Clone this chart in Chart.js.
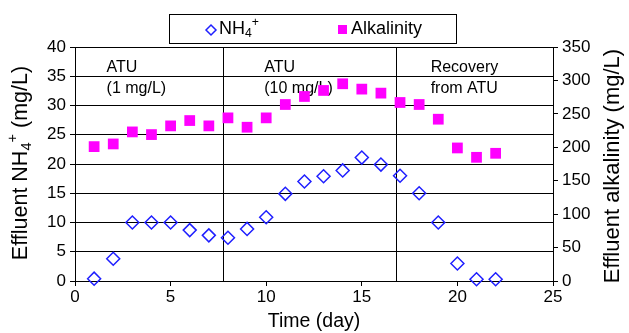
<!DOCTYPE html>
<html>
<head>
<meta charset="utf-8">
<script src="https://cdn.jsdelivr.net/npm/chart.js@4.4.1/dist/chart.umd.min.js"></script>
<style>
  html, body { margin: 0; padding: 0; background: #fff; }
  #wrap { width: 629px; height: 333px; position: relative; }
</style>
</head>
<body>
<div id="wrap"><canvas id="chart"></canvas></div>
<script>
// dados
const days = [1, 2, 3, 4, 5, 6, 7, 8, 9, 10, 11, 12, 13, 14, 15, 16, 17, 18, 19, 20, 21, 22];
const nh4 = [0.4, 3.8, 10, 10, 10, 8.7, 7.8, 7.4, 8.9, 10.9, 14.9, 17, 17.9, 18.9, 21.1, 19.9, 18, 15, 10, 3, 0.3, 0.3];
const alkalinity = [201, 205, 223, 219, 232, 240, 232, 244, 230, 244, 264, 276, 285, 295, 287, 281, 267, 264, 242, 199, 185, 191];
const phaseBreaks = [7.75, 16.8];
const phaseLabels = [
    { day: 1.65, lines: ['ATU', '(1 mg/L)'] },
    { day: 9.9, lines: ['ATU', '(10 mg/L)'] },
    { day: 18.6, lines: ['Recovery', 'from ATU'] }
];
const leftTicks = { min: 0, max: 40, step: 5 };
const rightTicks = { min: 0, max: 350, step: 50 };

const FONT = '"Liberation Sans", Arial, sans-serif';
const BLUE = '#1f1fff';
const MAGENTA = '#ff00ff';

// texto com sub/sobrescrito: s = 0 normal, -1 sub, 1 sup
function richWidth(ctx, parts, size) {
    let w = 0;
    parts.forEach(p => {
        ctx.font = (p.s ? size * 0.68 : size) + 'px ' + FONT;
        w += ctx.measureText(p.t).width;
    });
    return w;
}
function drawRich(ctx, parts, x, y, size) {
    let cx = x;
    parts.forEach(p => {
        const fs = p.s ? size * 0.68 : size;
        ctx.font = fs + 'px ' + FONT;
        const dy = p.s === -1 ? size * 0.28 : (p.s === 1 ? -size * 0.38 : 0);
        ctx.fillText(p.t, cx, y + dy);
        cx += ctx.measureText(p.t).width;
    });
}

const extras = {
    id: 'extras',
    beforeDatasetsDraw(chart) {
        const { ctx, chartArea: a, scales: { x } } = chart;
        ctx.save();
        ctx.strokeStyle = '#000';
        ctx.lineWidth = 1;
        phaseBreaks.forEach(d => {
            const px = Math.round(x.getPixelForValue(d)) + 0.5;
            ctx.beginPath();
            ctx.moveTo(px, a.top);
            ctx.lineTo(px, a.bottom);
            ctx.stroke();
        });
        ctx.fillStyle = '#000';
        ctx.font = '16px ' + FONT;
        ctx.textBaseline = 'middle';
        ctx.textAlign = 'left';
        phaseLabels.forEach(l => {
            const px = x.getPixelForValue(l.day);
            l.lines.forEach((t, i) => ctx.fillText(t, px, a.top + 21 + i * 21));
        });
        ctx.restore();
    },
    afterDraw(chart) {
        const { ctx, chartArea: a } = chart;
        ctx.save();
        ctx.fillStyle = '#000';
        ctx.textBaseline = 'middle';
        // título eixo esquerdo
        const leftTitle = [{ t: 'Effluent NH', s: 0 }, { t: '4', s: -1 }, { t: '+', s: 1 }, { t: ' (mg/L)', s: 0 }];
        ctx.save();
        ctx.translate(21, 163);
        ctx.rotate(-Math.PI / 2);
        const w = richWidth(ctx, leftTitle, 21.5);
        ctx.textAlign = 'left';
        drawRich(ctx, leftTitle, -w / 2, 0, 21.5);
        ctx.restore();
        // título eixo direito
        ctx.save();
        ctx.translate(613, 166);
        ctx.rotate(-Math.PI / 2);
        ctx.textAlign = 'center';
        ctx.font = '22px ' + FONT;
        ctx.fillText('Effluent alkalinity (mg/L)', 0, 0);
        ctx.restore();

        // legenda
        ctx.fillStyle = '#fff';
        ctx.fillRect(169, 14, 287, 29);
        ctx.strokeStyle = '#000';
        ctx.lineWidth = 1;
        ctx.strokeRect(169.5, 14.5, 287, 29);
        ctx.strokeStyle = BLUE;
        ctx.lineWidth = 1.5;
        ctx.beginPath();
        ctx.moveTo(206, 30); ctx.lineTo(211, 25); ctx.lineTo(216, 30); ctx.lineTo(211, 35); ctx.closePath();
        ctx.stroke();
        ctx.fillStyle = '#000';
        ctx.textAlign = 'left';
        drawRich(ctx, [{ t: 'NH', s: 0 }, { t: '4', s: -1 }, { t: '+', s: 1 }], 219, 29, 18);
        ctx.fillStyle = MAGENTA;
        ctx.fillRect(338, 25, 9, 9);
        ctx.fillStyle = '#000';
        ctx.font = '18px ' + FONT;
        ctx.fillText('Alkalinity', 351, 29);
        ctx.restore();
    }
};

const points = vals => days.map((d, i) => ({ x: d, y: vals[i] }));

new Chart(document.getElementById('chart'), {
    type: 'scatter',
    data: {
        datasets: [
            {
                label: 'NH4+',
                data: points(nh4),
                yAxisID: 'y',
                pointStyle: 'rectRot',
                pointRadius: 6.5,
                pointHoverRadius: 6.5,
                pointBorderWidth: 1.5,
                borderColor: BLUE,
                backgroundColor: 'rgba(0,0,0,0)',
                clip: false
            },
            {
                label: 'Alkalinity',
                data: points(alkalinity),
                yAxisID: 'y1',
                pointStyle: 'rect',
                pointRadius: 7.6,
                pointHoverRadius: 7.6,
                pointBorderWidth: 0,
                borderColor: MAGENTA,
                backgroundColor: MAGENTA,
                clip: false
            }
        ]
    },
    options: {
        responsive: true,
        maintainAspectRatio: false,
        animation: false,
        events: [],
        layout: { padding: { top: 47, left: 0, right: 0, bottom: 0 } },
        plugins: { legend: { display: false }, tooltip: { enabled: false } },
        scales: {
            x: {
                type: 'linear',
                min: 0, max: 25,
                ticks: { stepSize: 5, color: '#000', font: { family: FONT, size: 17 }, padding: 1, maxRotation: 0 },
                grid: { drawOnChartArea: false, tickLength: 5, color: '#000' },
                border: { color: '#000', width: 1 },
                title: { display: true, text: 'Time (day)', color: '#000', font: { family: FONT, size: 19.5 }, padding: 0 },
                afterFit: s => { s.height = 52; }
            },
            y: {
                position: 'left',
                min: leftTicks.min, max: leftTicks.max,
                ticks: { stepSize: leftTicks.step, color: '#000', font: { family: FONT, size: 17 }, padding: 4 },
                grid: { color: '#000', tickLength: 5, lineWidth: 1 },
                border: { color: '#000', width: 1 },
                afterFit: s => { s.width = 75; }
            },
            y1: {
                position: 'right',
                min: rightTicks.min, max: rightTicks.max,
                ticks: { stepSize: rightTicks.step, color: '#000', font: { family: FONT, size: 17 }, padding: 4 },
                grid: { drawOnChartArea: false, color: '#000', tickLength: 5 },
                border: { color: '#000', width: 1 },
                afterFit: s => { s.width = 76; }
            }
        }
    },
    plugins: [extras]
});
</script>
</body>
</html>
